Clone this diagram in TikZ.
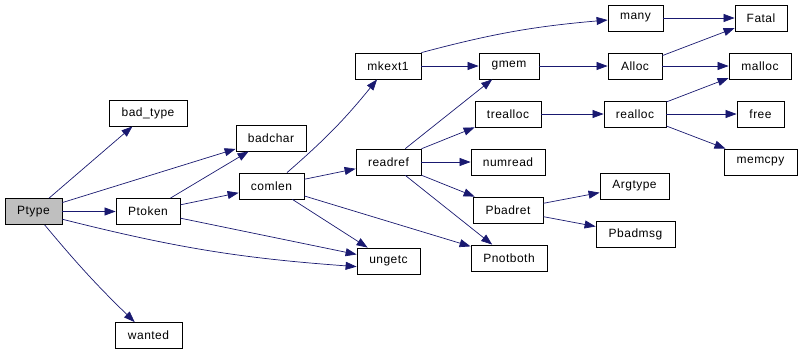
\documentclass[tikz,border=0pt]{standalone}
\usepackage{fontspec}
\setmainfont{Liberation Sans}[LetterSpace=4]
\usetikzlibrary{arrows.meta}
\definecolor{callblue}{HTML}{191970}
\definecolor{rootgray}{HTML}{BFBFBF}
\begin{document}
\begin{tikzpicture}[x=1pt,y=-1pt,
  fn/.style={draw,line width=0.8pt,minimum height=26,inner sep=0pt,font=\fontsize{12}{14}\selectfont},
  call/.style={draw=callblue,line width=0.7pt,-{Triangle[length=11pt,width=8pt]}}]
\useasboundingbox (0,0) rectangle (802,351);
% caller and first level
\node[fn,fill=rootgray,minimum width=57] (ptype) at (33.5,211.5) {Ptype};
\node[fn,minimum width=78] (badtype) at (148,113) {bad\_type};
\node[fn,minimum width=70] (badchar) at (271,138) {badchar};
\node[fn,minimum width=64] (ptoken) at (148,211.5) {Ptoken};
\node[fn,minimum width=67] (wanted) at (148.5,335.5) {wanted};
\node[fn,minimum width=65] (comlen) at (271.5,186) {comlen};
\node[fn,minimum width=63] (ungetc) at (388.5,261) {ungetc};
% middle
\node[fn,minimum width=66] (mkext) at (388,66) {mkext1};
\node[fn,minimum width=65] (readref) at (388.5,162) {readref};
\node[fn,minimum width=60] (gmem) at (509,66) {gmem};
\node[fn,minimum width=66] (trealloc) at (508,114) {trealloc};
\node[fn,minimum width=74] (numread) at (508,162) {numread};
\node[fn,minimum width=70] (pbadret) at (508,210) {Pbadret};
\node[fn,minimum width=76] (pnotboth) at (509,258) {Pnotboth};
% right side
\node[fn,minimum width=55] (many) at (635.5,18) {many};
\node[fn,minimum width=54] (alloc) at (635,66) {Alloc};
\node[fn,minimum width=62] (realloc) at (635,114) {realloc};
\node[fn,minimum width=69] (argtype) at (634.5,186) {Argtype};
\node[fn,minimum width=79] (pbadmsg) at (635.5,234) {Pbadmsg};
\node[fn,minimum width=52] (fatal) at (761,18) {Fatal};
\node[fn,minimum width=62] (malloc) at (760,66) {malloc};
\node[fn,minimum width=47] (free) at (760.5,114) {free};
\node[fn,minimum width=73] (memcpy) at (760.5,162) {memcpy};
% calls
\draw[call] (ptype) -- (badtype);
\draw[call] (ptype) -- (badchar);
\draw[call] (ptype) -- (ptoken);
\draw[call] (ptype.-15) to[bend right=5] (ungetc.190);
\draw[call] (ptype) to[bend right=3] (wanted);
\draw[call] (ptoken) -- (badchar);
\draw[call] (ptoken) -- (comlen);
\draw[call] (ptoken) -- (ungetc);
\draw[call] (comlen) to[bend right=5] (mkext);
\draw[call] (comlen) -- (readref);
\draw[call] (comlen) -- (ungetc);
\draw[call] (comlen) -- (pnotboth);
\draw[call] (mkext.north east) to[bend left=5] (many);
\draw[call] (mkext) -- (gmem);
\draw[call] (readref) -- (gmem);
\draw[call] (readref) -- (trealloc);
\draw[call] (readref) -- (numread);
\draw[call] (readref) -- (pbadret);
\draw[call] (readref) -- (pnotboth);
\draw[call] (gmem) -- (alloc);
\draw[call] (trealloc) -- (realloc);
\draw[call] (pbadret) -- (argtype);
\draw[call] (pbadret) -- (pbadmsg);
\draw[call] (many) -- (fatal);
\draw[call] (alloc) -- (fatal);
\draw[call] (alloc) -- (malloc);
\draw[call] (realloc) -- (malloc);
\draw[call] (realloc) -- (free);
\draw[call] (realloc) -- (memcpy);
\end{tikzpicture}
\end{document}
